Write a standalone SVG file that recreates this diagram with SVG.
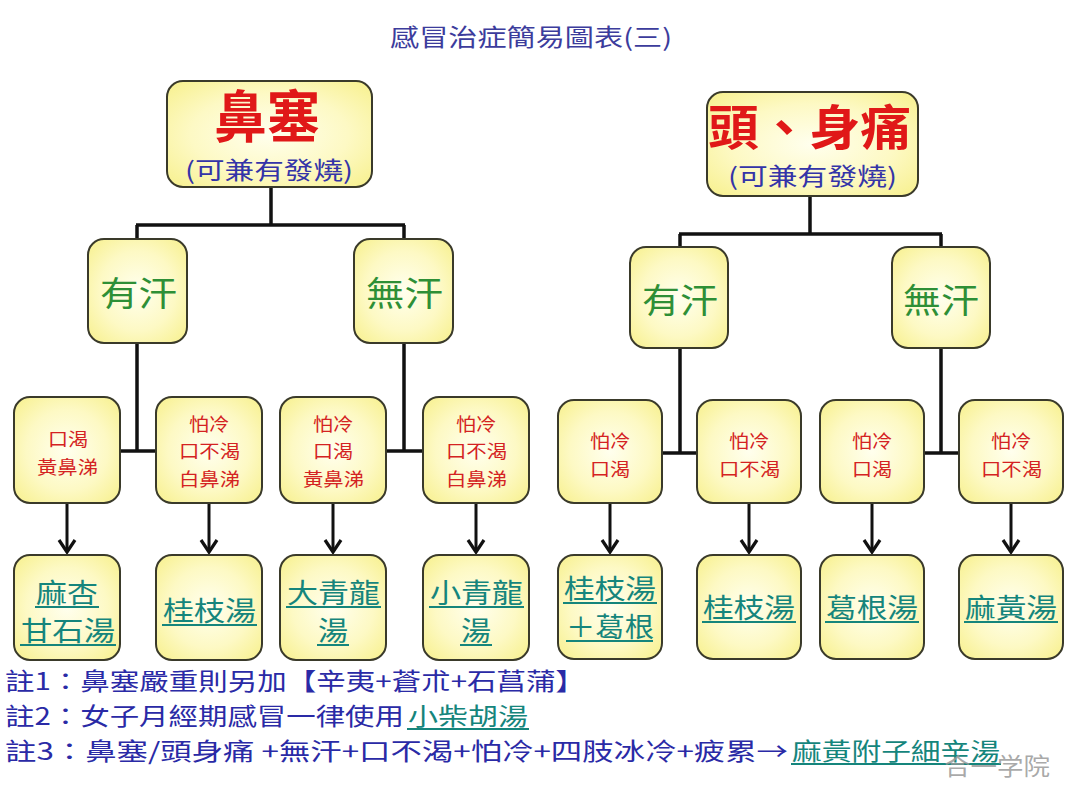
<svg xmlns="http://www.w3.org/2000/svg" width="1080" height="810" viewBox="0 0 1080 810">
<defs>
<radialGradient id="yg" cx="50%" cy="50%" r="70%">
<stop offset="0" stop-color="#ffffee"/>
<stop offset="0.55" stop-color="#fdf9c4"/>
<stop offset="1" stop-color="#f7f08c"/>
</radialGradient>
<marker id="arr" markerWidth="20" markerHeight="20" viewBox="0 0 20 20" refX="17" refY="10" orient="auto" markerUnits="userSpaceOnUse">
<polyline points="5,2 17,10 5,18" fill="none" stroke="#111" stroke-width="3.2"/>
</marker>
<style>
.box{fill:url(#yg);stroke:#3a3a2a;stroke-width:2}
.ln{fill:none;stroke:#111;stroke-width:3.5}
.ar{fill:none;stroke:#111;stroke-width:3}
.t{font-family:"Noto Sans CJK TC","Noto Sans CJK SC",sans-serif}
.title{fill:#3c3c9c;font-size:24px}
.big{fill:#e01818;font-weight:bold}
.sub{fill:#3434a8;font-size:24px}
.grn{fill:#2e8f36;font-size:34px}
.red{fill:#d42222;font-size:18px}
.med{fill:#15857c;font-size:27px}
.ul{stroke:#15857c;stroke-width:2}
.note{fill:#2a2aa6;font-size:24px}
</style>
</defs>
<rect width="1080" height="810" fill="#ffffff"/>
<text class="t title" x="390" y="46" textLength="282" lengthAdjust="spacingAndGlyphs">感冒治症簡易圖表(三)</text>

<g id="connectors">
<line class="ln" x1="271" y1="187" x2="271" y2="225"/>
<line class="ln" x1="136" y1="225" x2="405" y2="225"/>
<line class="ln" x1="137" y1="225" x2="137" y2="239"/>
<line class="ln" x1="404" y1="225" x2="404" y2="239"/>
<line class="ln" x1="137" y1="343" x2="137" y2="451"/>
<line class="ln" x1="120" y1="451" x2="156" y2="451"/>
<line class="ln" x1="404" y1="343" x2="404" y2="451"/>
<line class="ln" x1="386" y1="451" x2="423" y2="451"/>
<line class="ln" x1="810" y1="196" x2="810" y2="234"/>
<line class="ln" x1="679" y1="234" x2="942" y2="234"/>
<line class="ln" x1="680" y1="234" x2="680" y2="247"/>
<line class="ln" x1="941" y1="234" x2="941" y2="247"/>
<line class="ln" x1="680" y1="348" x2="680" y2="453"/>
<line class="ln" x1="662" y1="453" x2="697" y2="453"/>
<line class="ln" x1="941" y1="348" x2="941" y2="453"/>
<line class="ln" x1="924" y1="453" x2="959" y2="453"/>
<line class="ar" x1="67" y1="503" x2="67" y2="552" marker-end="url(#arr)"/>
<line class="ar" x1="209" y1="503" x2="209" y2="552" marker-end="url(#arr)"/>
<line class="ar" x1="333" y1="503" x2="333" y2="552" marker-end="url(#arr)"/>
<line class="ar" x1="476" y1="503" x2="476" y2="552" marker-end="url(#arr)"/>
<line class="ar" x1="610" y1="503" x2="610" y2="552" marker-end="url(#arr)"/>
<line class="ar" x1="749" y1="503" x2="749" y2="552" marker-end="url(#arr)"/>
<line class="ar" x1="872" y1="503" x2="872" y2="552" marker-end="url(#arr)"/>
<line class="ar" x1="1011" y1="503" x2="1011" y2="552" marker-end="url(#arr)"/>
</g>

<g id="n-bise">
<rect class="box" x="167" y="81" width="205" height="106" rx="16"/>
<text class="t big" x="214" y="137" font-size="56" textLength="106" lengthAdjust="spacingAndGlyphs">鼻塞</text>
<text class="t sub" x="185" y="179" textLength="168" lengthAdjust="spacingAndGlyphs">(可兼有發燒)</text>
</g>
<g id="n-toushen">
<rect class="box" x="707" y="92" width="211" height="104" rx="16"/>
<text class="t big" x="708" y="145" font-size="48" textLength="203" lengthAdjust="spacingAndGlyphs">頭、身痛</text>
<text class="t sub" x="728" y="185" textLength="169" lengthAdjust="spacingAndGlyphs">(可兼有發燒)</text>
</g>

<g id="n-l-youhan">
<rect class="box" x="88" y="239" width="99" height="104" rx="16"/>
<text class="t grn" x="100" y="306" textLength="77" lengthAdjust="spacingAndGlyphs">有汗</text>
</g>
<g id="n-l-wuhan">
<rect class="box" x="354" y="239" width="99" height="104" rx="16"/>
<text class="t grn" x="366" y="306" textLength="77" lengthAdjust="spacingAndGlyphs">無汗</text>
</g>
<g id="n-r-youhan">
<rect class="box" x="630" y="247" width="98" height="101" rx="16"/>
<text class="t grn" x="642" y="313" textLength="76" lengthAdjust="spacingAndGlyphs">有汗</text>
</g>
<g id="n-r-wuhan">
<rect class="box" x="892" y="247" width="98" height="101" rx="16"/>
<text class="t grn" x="903" y="313" textLength="76" lengthAdjust="spacingAndGlyphs">無汗</text>
</g>

<g id="s1">
<rect class="box" x="14" y="397" width="106" height="106" rx="16"/>
<text class="t red" x="48" y="446" textLength="40" lengthAdjust="spacingAndGlyphs">口渴</text>
<text class="t red" x="37" y="474" textLength="61" lengthAdjust="spacingAndGlyphs">黃鼻涕</text>
</g>
<g id="s2">
<rect class="box" x="156" y="397" width="106" height="106" rx="16"/>
<text class="t red" x="189" y="431" textLength="40" lengthAdjust="spacingAndGlyphs">怕冷</text>
<text class="t red" x="179" y="458" textLength="61" lengthAdjust="spacingAndGlyphs">口不渴</text>
<text class="t red" x="179" y="486" textLength="61" lengthAdjust="spacingAndGlyphs">白鼻涕</text>
</g>
<g id="s3">
<rect class="box" x="280" y="397" width="106" height="106" rx="16"/>
<text class="t red" x="313" y="431" textLength="40" lengthAdjust="spacingAndGlyphs">怕冷</text>
<text class="t red" x="313" y="458" textLength="40" lengthAdjust="spacingAndGlyphs">口渴</text>
<text class="t red" x="303" y="486" textLength="61" lengthAdjust="spacingAndGlyphs">黃鼻涕</text>
</g>
<g id="s4">
<rect class="box" x="423" y="397" width="106" height="106" rx="16"/>
<text class="t red" x="456" y="431" textLength="40" lengthAdjust="spacingAndGlyphs">怕冷</text>
<text class="t red" x="446" y="458" textLength="61" lengthAdjust="spacingAndGlyphs">口不渴</text>
<text class="t red" x="446" y="486" textLength="61" lengthAdjust="spacingAndGlyphs">白鼻涕</text>
</g>
<g id="s5">
<rect class="box" x="558" y="400" width="104" height="103" rx="16"/>
<text class="t red" x="590" y="448" textLength="40" lengthAdjust="spacingAndGlyphs">怕冷</text>
<text class="t red" x="590" y="476" textLength="40" lengthAdjust="spacingAndGlyphs">口渴</text>
</g>
<g id="s6">
<rect class="box" x="697" y="400" width="104" height="103" rx="16"/>
<text class="t red" x="729" y="448" textLength="40" lengthAdjust="spacingAndGlyphs">怕冷</text>
<text class="t red" x="719" y="476" textLength="61" lengthAdjust="spacingAndGlyphs">口不渴</text>
</g>
<g id="s7">
<rect class="box" x="820" y="400" width="104" height="103" rx="16"/>
<text class="t red" x="852" y="448" textLength="40" lengthAdjust="spacingAndGlyphs">怕冷</text>
<text class="t red" x="852" y="476" textLength="40" lengthAdjust="spacingAndGlyphs">口渴</text>
</g>
<g id="s8">
<rect class="box" x="959" y="400" width="104" height="103" rx="16"/>
<text class="t red" x="991" y="448" textLength="40" lengthAdjust="spacingAndGlyphs">怕冷</text>
<text class="t red" x="981" y="476" textLength="61" lengthAdjust="spacingAndGlyphs">口不渴</text>
</g>

<g id="f1">
<rect class="box" x="14" y="555" width="106" height="105" rx="16"/>
<text class="t med" x="36" y="603" textLength="62" lengthAdjust="spacingAndGlyphs">麻杏</text>
<line class="ul" x1="35" y1="607" x2="99" y2="607"/>
<text class="t med" x="21" y="641" textLength="94" lengthAdjust="spacingAndGlyphs">甘石湯</text>
<line class="ul" x1="20" y1="645" x2="116" y2="645"/>
</g>
<g id="f2">
<rect class="box" x="156" y="555" width="106" height="105" rx="16"/>
<text class="t med" x="163" y="621" textLength="93" lengthAdjust="spacingAndGlyphs">桂枝湯</text>
<line class="ul" x1="162" y1="625" x2="257" y2="625"/>
</g>
<g id="f3">
<rect class="box" x="280" y="555" width="106" height="105" rx="16"/>
<text class="t med" x="287" y="603" textLength="93" lengthAdjust="spacingAndGlyphs">大青龍</text>
<line class="ul" x1="286" y1="607" x2="381" y2="607"/>
<text class="t med" x="318" y="641" textLength="30" lengthAdjust="spacingAndGlyphs">湯</text>
<line class="ul" x1="317" y1="645" x2="349" y2="645"/>
</g>
<g id="f4">
<rect class="box" x="423" y="555" width="106" height="105" rx="16"/>
<text class="t med" x="430" y="603" textLength="93" lengthAdjust="spacingAndGlyphs">小青龍</text>
<line class="ul" x1="429" y1="607" x2="524" y2="607"/>
<text class="t med" x="461" y="641" textLength="30" lengthAdjust="spacingAndGlyphs">湯</text>
<line class="ul" x1="460" y1="645" x2="492" y2="645"/>
</g>
<g id="f5">
<rect class="box" x="558" y="555" width="104" height="104" rx="16"/>
<text class="t med" x="564" y="599" textLength="92" lengthAdjust="spacingAndGlyphs">桂枝湯</text>
<line class="ul" x1="563" y1="603" x2="657" y2="603"/>
<text class="t med" x="566" y="637" textLength="88" lengthAdjust="spacingAndGlyphs">＋葛根</text>
<line class="ul" x1="566" y1="641" x2="653" y2="641"/>
</g>
<g id="f6">
<rect class="box" x="697" y="555" width="104" height="104" rx="16"/>
<text class="t med" x="703" y="618" textLength="92" lengthAdjust="spacingAndGlyphs">桂枝湯</text>
<line class="ul" x1="702" y1="622" x2="796" y2="622"/>
</g>
<g id="f7">
<rect class="box" x="820" y="555" width="104" height="104" rx="16"/>
<text class="t med" x="826" y="618" textLength="92" lengthAdjust="spacingAndGlyphs">葛根湯</text>
<line class="ul" x1="825" y1="622" x2="919" y2="622"/>
</g>
<g id="f8">
<rect class="box" x="959" y="555" width="104" height="104" rx="16"/>
<text class="t med" x="965" y="618" textLength="92" lengthAdjust="spacingAndGlyphs">麻黃湯</text>
<line class="ul" x1="964" y1="622" x2="1058" y2="622"/>
</g>

<g id="notes">
<text class="t note" x="5" y="690" textLength="580" lengthAdjust="spacingAndGlyphs">註1：鼻塞嚴重則另加【辛夷+蒼朮+石菖蒲】</text>
<text class="t note" x="5" y="725" textLength="399" lengthAdjust="spacingAndGlyphs">註2：女子月經期感冒一律使用</text>
<text class="t note" x="408" y="725" textLength="120" lengthAdjust="spacingAndGlyphs" style="fill:#15857c">小柴胡湯</text>
<line class="ul" x1="407" y1="729" x2="529" y2="729"/>
<text class="t note" x="5" y="760" textLength="783" lengthAdjust="spacingAndGlyphs">註3：鼻塞/頭身痛 +無汗+口不渴+怕冷+四肢冰冷+疲累→</text>
<text class="t note" x="792" y="760" textLength="208" lengthAdjust="spacingAndGlyphs" style="fill:#15857c">麻黃附子細辛湯</text>
<line class="ul" x1="791" y1="764" x2="1001" y2="764"/>
</g>
<text class="t" x="944" y="775" font-size="24" fill="#9a9a9a" fill-opacity="0.85" textLength="106" lengthAdjust="spacingAndGlyphs">合一学院</text>
</svg>
